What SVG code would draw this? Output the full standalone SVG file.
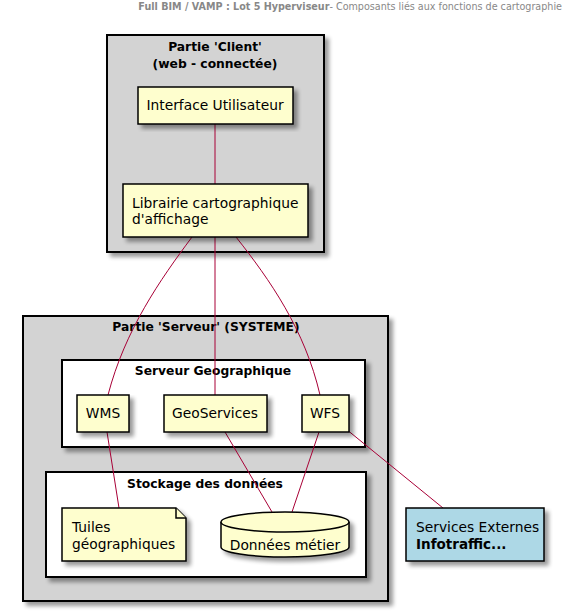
<svg xmlns="http://www.w3.org/2000/svg" width="573" height="611" viewBox="0 0 573 611">
<style>
  text { font-family: "DejaVu Sans", "Liberation Sans", sans-serif; fill: #000; }
  .t { font-size: 13.8px; }
  .b { font-size: 12.3px; font-weight: bold; }
  .pkg { fill: #D3D3D3; stroke: #000; stroke-width: 2; }
  .pkgw { fill: #FFFFFF; stroke: #000; stroke-width: 2; }
  .comp { fill: #FEFECE; stroke: #000; stroke-width: 1.5; }
  .ext { fill: #ADD8E6; stroke: #000; stroke-width: 1.5; }
  .link { fill: none; stroke: #A80036; stroke-width: 1; }
  .hdr { font-size: 9.6px; fill: #888; }
</style>
<defs>
  <filter id="sh" x="-10%" y="-10%" width="130%" height="130%">
    <feGaussianBlur in="SourceAlpha" stdDeviation="2"/>
    <feOffset dx="4" dy="4" result="o"/>
    <feComponentTransfer><feFuncA type="linear" slope="0.4"/></feComponentTransfer>
    <feMerge><feMergeNode/><feMergeNode in="SourceGraphic"/></feMerge>
  </filter>
</defs>
<rect width="573" height="611" fill="#fff"/>
<text class="hdr" x="562" y="10" text-anchor="end"><tspan font-weight="bold">Full BIM / VAMP : Lot 5 Hyperviseur</tspan>- Composants liés aux fonctions de cartographie</text>

<g id="client">
  <rect class="pkg" x="107" y="35" width="217" height="217" filter="url(#sh)"/>
  <text class="b" x="215" y="51" text-anchor="middle">Partie 'Client'</text>
  <text class="b" x="215" y="68" text-anchor="middle">(web - connectée)</text>
</g>
<g id="serveur">
  <rect class="pkg" x="23" y="316" width="365" height="285" filter="url(#sh)"/>
  <text class="b" x="206" y="331" text-anchor="middle">Partie 'Serveur' (SYSTEME)</text>
</g>
<g id="geo">
  <rect class="pkgw" x="62" y="360" width="303" height="87" filter="url(#sh)"/>
  <text class="b" x="213" y="375" text-anchor="middle">Serveur Geographique</text>
</g>
<g id="stockage">
  <rect class="pkgw" x="46" y="472" width="320" height="105" filter="url(#sh)"/>
  <text class="b" x="205" y="488" text-anchor="middle">Stockage des données</text>
</g>

<g id="connectors">
  <line class="link" x1="215" y1="124" x2="215" y2="184"/>
  <path class="link" d="M192,237 C160,280 125,330 108,395"/>
  <line class="link" x1="215" y1="237" x2="215" y2="395"/>
  <path class="link" d="M236,237 C270,280 305,330 320,395"/>
  <line class="link" x1="107" y1="432" x2="119" y2="508"/>
  <line class="link" x1="225" y1="432" x2="272" y2="512"/>
  <line class="link" x1="319" y1="432" x2="292" y2="512"/>
  <line class="link" x1="346" y1="429" x2="443" y2="508"/>
</g>

<g id="ui">
  <rect class="comp" x="138" y="87" width="155" height="37" filter="url(#sh)"/>
  <text class="t" x="215" y="110" text-anchor="middle">Interface Utilisateur</text>
</g>
<g id="lib">
  <rect class="comp" x="123" y="184" width="185" height="53" filter="url(#sh)"/>
  <text class="t" x="132" y="208">Librairie cartographique</text>
  <text class="t" x="132" y="224">d'affichage</text>
</g>
<g id="wms">
  <rect class="comp" x="77" y="395" width="52" height="37" filter="url(#sh)"/>
  <text class="t" x="103" y="418" text-anchor="middle">WMS</text>
</g>
<g id="geoservices">
  <rect class="comp" x="164" y="395" width="103" height="37" filter="url(#sh)"/>
  <text class="t" x="215" y="418" text-anchor="middle">GeoServices</text>
</g>
<g id="wfs">
  <rect class="comp" x="302" y="395" width="47" height="37" filter="url(#sh)"/>
  <text class="t" x="325" y="418" text-anchor="middle">WFS</text>
</g>
<g id="tuiles">
  <path class="comp" d="M62,508 H176 L186,518 V561 H62 Z" filter="url(#sh)"/>
  <path class="comp" d="M176,508 V518 H186" fill="none"/>
  <text class="t" x="72" y="532">Tuiles</text>
  <text class="t" x="72" y="549">géographiques</text>
</g>
<g id="donnees">
  <path class="comp" d="M221,522 A64,10 0 0 1 349,522 V547 A64,10 0 0 1 221,547 Z" filter="url(#sh)"/>
  <path class="comp" d="M221,522 A64,10 0 0 0 349,522" fill="none"/>
  <text class="t" x="285" y="550" text-anchor="middle">Données métier</text>
</g>
<g id="externes">
  <rect class="ext" x="406" y="508" width="138" height="53" filter="url(#sh)"/>
  <text class="t" x="416" y="532">Services Externes</text>
  <text class="b" x="416" y="549" style="font-size:13.5px">Infotraffic...</text>
</g>
</svg>
